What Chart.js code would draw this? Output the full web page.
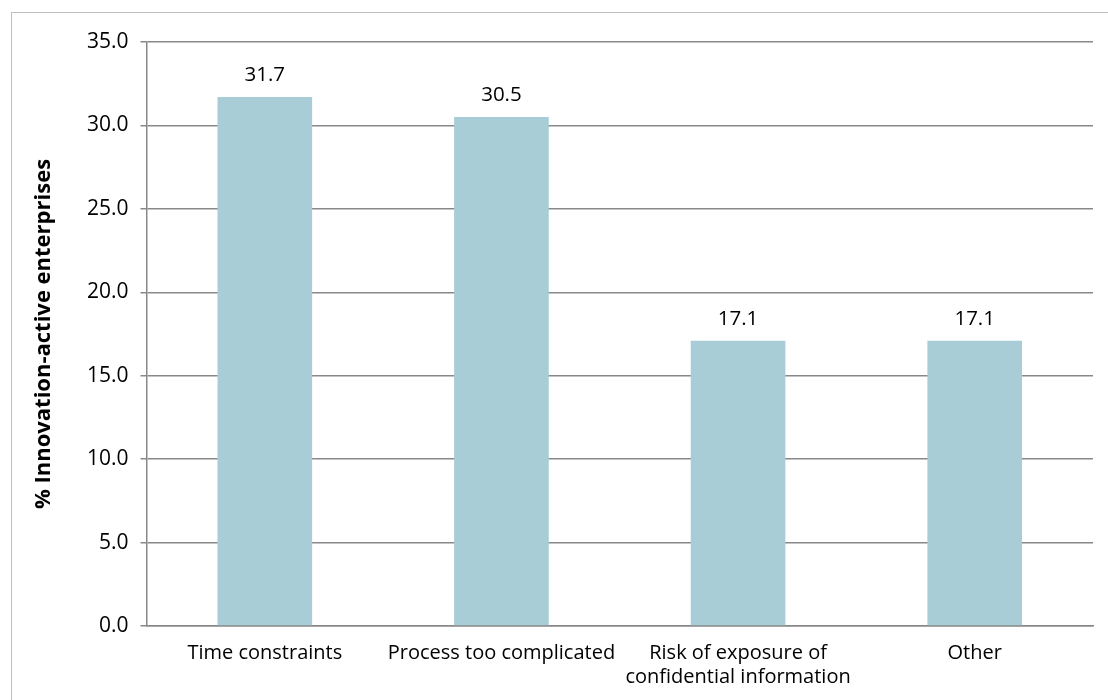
<!DOCTYPE html>
<html>
<head>
<meta charset="utf-8">
<script src="https://cdn.jsdelivr.net/npm/chart.js@4/dist/chart.umd.min.js"></script>
<style>
  html, body { margin: 0; padding: 0; background: #ffffff; }
  #wrap { position: relative; width: 1108px; height: 700px; overflow: hidden; }
  #frame { position: absolute; left: 11px; top: 12px; width: 1110px; height: 700px;
           border: 1.5px solid #bfbfbf; box-sizing: border-box; }
  canvas { position: absolute; left: 0; top: 0; }
</style>
</head>
<body>
<div id="wrap">
  <div id="frame"></div>
  <canvas id="chart" width="1108" height="700"></canvas>
</div>
<script>
// Barriers reported by innovation-active enterprises
const categories = [
  'Time constraints',
  'Process too complicated',
  ['Risk of exposure of', 'confidential information'],
  'Other'
];
const shares = [31.7, 30.5, 17.1, 17.1];
const yTicks = [0, 5, 10, 15, 20, 25, 30, 35];

const FONT = '"Open Sans", "Liberation Sans", sans-serif';
const GRID = '#888888';

// writes each bar's value just above it
const valueLabels = {
  id: 'valueLabels',
  afterDatasetsDraw(chart) {
    const ctx = chart.ctx;
    const meta = chart.getDatasetMeta(0);
    ctx.save();
    ctx.font = '20.5px ' + FONT;
    ctx.fillStyle = '#000000';
    ctx.textAlign = 'center';
    ctx.textBaseline = 'middle';
    meta.data.forEach((bar, i) => {
      ctx.fillText(shares[i].toFixed(1), bar.x, bar.y - 22);
    });
    ctx.restore();
  }
};

new Chart(document.getElementById('chart'), {
  type: 'bar',
  data: {
    labels: categories,
    datasets: [{
      data: shares,
      backgroundColor: '#a9cdd6',
      borderWidth: 0,
      barPercentage: 0.4,
      categoryPercentage: 1.0
    }]
  },
  options: {
    responsive: false,
    animation: false,
    devicePixelRatio: 1,
    layout: { padding: { left: 0, top: 42, right: 15, bottom: 0 } },
    plugins: { legend: { display: false }, tooltip: { enabled: false } },
    scales: {
      x: {
        grid: { display: false, drawTicks: false },
        border: { display: true, color: GRID, width: 1.5 },
        ticks: {
          color: '#000000',
          font: { family: FONT, size: 20, lineHeight: 1.2 },
          padding: 15,
          maxRotation: 0,
          autoSkip: false
        },
        afterFit(scale) { scale.height = 74; }
      },
      y: {
        min: 0,
        max: 35,
        afterBuildTicks(scale) { scale.ticks = yTicks.map(v => ({ value: v })); },
        grid: { color: GRID, lineWidth: 1.5, tickLength: 6, drawTicks: true },
        border: { display: true, color: GRID, width: 1.5 },
        ticks: {
          color: '#000000',
          font: { family: FONT, size: 21 },
          padding: 12,
          callback: v => Number(v).toFixed(1)
        },
        title: {
          display: true,
          text: '% Innovation-active enterprises',
          color: '#000000',
          font: { family: FONT, size: 22, weight: 'bold' },
          padding: { top: 31, bottom: 10 }
        },
        afterFit(scale) { scale.width = 146.5; }
      }
    }
  },
  plugins: [valueLabels]
});
</script>
</body>
</html>
